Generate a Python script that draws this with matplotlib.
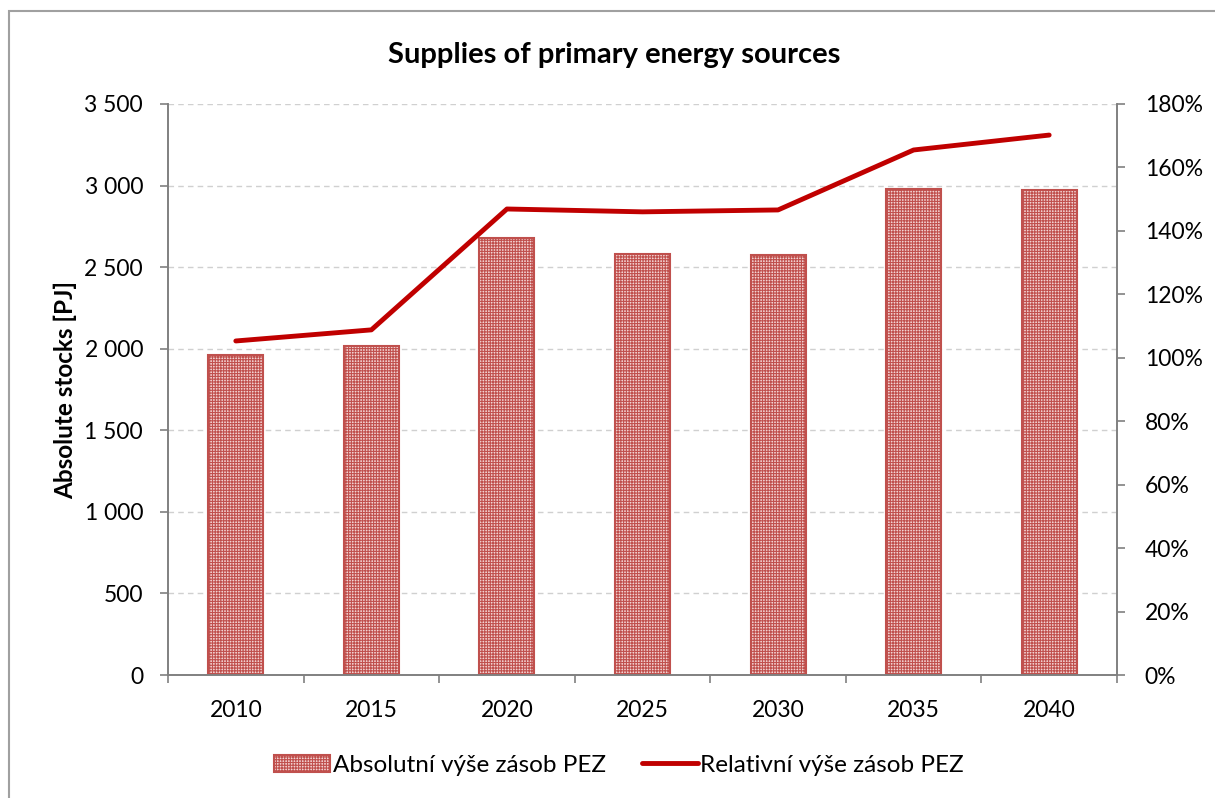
import matplotlib
matplotlib.use("Agg")
import matplotlib.pyplot as plt
import numpy as np
from matplotlib.patches import Rectangle
from matplotlib.ticker import FuncFormatter, MultipleLocator

plt.rcParams['font.family'] = ['Lato', 'DejaVu Sans']
plt.rcParams['hatch.linewidth'] = 0.8

years = ['2010', '2015', '2020', '2025', '2030', '2035', '2040']
absolute = [1960, 2015, 2680, 2580, 2575, 2978, 2973]
relative = [105.3, 108.8, 146.9, 146.0, 146.6, 165.5, 170.2]

title = 'Supplies of primary energy sources'
ylabel = 'Absolute stocks [PJ]'
bar_label = 'Absolutní výše zásob PEZ'
line_label = 'Relativní výše zásob PEZ'

red = '#C00000'
bar_edge = '#C0504D'

fig = plt.figure(figsize=(12.15, 7.98), dpi=100)
ax = fig.add_axes([0.1383, 0.1541, 0.9193 - 0.1383, 0.8697 - 0.1541])

x = np.arange(len(years))
plt.rcParams['hatch.color'] = bar_edge
bars = ax.bar(x, absolute, width=0.405, facecolor='#F3D3D3', edgecolor=bar_edge,
              hatch='++++++', linewidth=1.5, label=bar_label, zorder=2)
ax.set_xlim(-0.5, len(years) - 0.5)
ax.set_ylim(0, 3500)
ax.yaxis.set_major_locator(MultipleLocator(500))
ax.yaxis.set_major_formatter(FuncFormatter(lambda v, p: f'{int(v):,}'.replace(',', ' ')))
ax.grid(axis='y', color='#D0D0D0', linestyle=(0, (4, 3)), linewidth=1.0, zorder=0)
ax.set_axisbelow(True)
ax.set_xticks(x)
ax.set_xticklabels(years)
ax.set_xticks(np.arange(-0.5, len(years), 1), minor=True)
ax.tick_params(axis='x', which='major', length=0, labelsize=16.5, pad=18)
ax.tick_params(axis='x', which='minor', length=6, color='#808080', width=1.2)
ax.tick_params(axis='y', length=6, color='#808080', width=1.2, labelsize=16.5, pad=12)
for s in ['left', 'bottom', 'right']:
    ax.spines[s].set_color('#808080')
    ax.spines[s].set_linewidth(1.2)
ax.spines['top'].set_visible(False)
ax.set_ylabel(ylabel, fontsize=17.5, fontweight='bold', labelpad=5)

ax2 = ax.twinx()
line, = ax2.plot(x, relative, color=red, linewidth=3.5, label=line_label,
                 solid_capstyle='round', zorder=3)
ax2.set_ylim(0, 180)
ax2.yaxis.set_major_locator(MultipleLocator(20))
ax2.yaxis.set_major_formatter(FuncFormatter(lambda v, p: f'{int(v)}%'))
ax2.tick_params(axis='y', length=6, color='#808080', width=1.2, labelsize=16.5, pad=14)
for s in ['left', 'bottom', 'right']:
    ax2.spines[s].set_color('#808080')
    ax2.spines[s].set_linewidth(1.2)
ax2.spines['top'].set_visible(False)

fig.text(0.5055, 0.931, title, ha='center', va='center', fontsize=21, fontweight='bold')

leg = fig.legend([bars, line], [bar_label, line_label], loc='center',
                 bbox_to_anchor=(0.5095, 0.041), ncol=2, frameon=False, fontsize=17.5,
                 handlelength=2.3, handletextpad=0.1, columnspacing=1.5)

fig.patches.append(Rectangle((9 / 1215, -0.05), 1.2, (798 - 11) / 798 + 0.05,
                             transform=fig.transFigure, fill=False,
                             edgecolor='#A0A0A0', linewidth=1.5))

fig.savefig('out.png', dpi=100)
